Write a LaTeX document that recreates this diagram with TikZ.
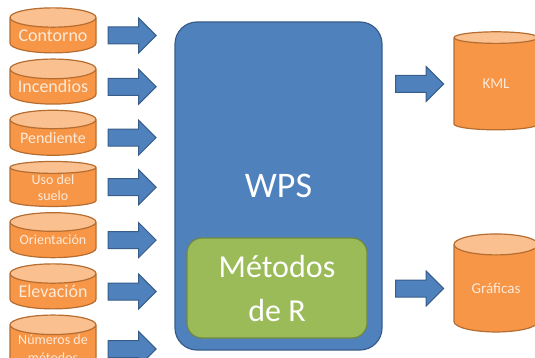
\documentclass[tikz,border=0pt]{standalone}
\usepackage{fontspec}
\setmainfont{Carlito}
\usetikzlibrary{shapes.geometric, shapes.arrows, positioning}

\definecolor{dbbody}{HTML}{F79646}
\definecolor{dbtop}{HTML}{FAC090}
\definecolor{dbline}{HTML}{B66D31}
\definecolor{dbtext}{HTML}{FDEADA}
\definecolor{wpsfill}{HTML}{4F81BD}
\definecolor{wpsline}{HTML}{385D8A}
\definecolor{rfill}{HTML}{9BBB59}
\definecolor{rline}{HTML}{71893F}

\tikzset{
  db/.style={cylinder, shape border rotate=90, aspect=0.28, draw=dbline, line width=1.2pt,
    cylinder uses custom fill, cylinder body fill=dbbody, cylinder end fill=dbtop,
    text=dbtext, inner sep=0pt, align=center, minimum width=86pt, minimum height=45pt},
  dbout/.style={db, aspect=0.43, minimum width=84pt, minimum height=98pt,
    font=\fontsize{15}{17}\selectfont},
  flecha/.style={single arrow, draw=wpsline, fill=wpsfill, line width=1pt,
    inner xsep=0pt, inner ysep=8pt, single arrow head extend=9pt,
    minimum width=34pt, minimum height=48pt},
}

\begin{document}
\begin{tikzpicture}[x=1pt, y=-1pt, node distance=5pt]
\useasboundingbox (0,0) rectangle (535,358);

% fuentes de datos
\node[db, font=\fontsize{18}{20}\selectfont]	(con) at (53,35.5)		{Contorno};
\node[db, font=\fontsize{18}{20}\selectfont]	(inc) [below=of con]	{Incendios};
\node[db, font=\fontsize{16}{18}\selectfont]	(pen) [below=of inc]	{Pendiente};
\node[db, font=\fontsize{14}{16}\selectfont]	(uso) [below=of pen]	{Uso del\\suelo};
\node[db, font=\fontsize{14}{16}\selectfont]	(ori) [below=of uso]	{Orientación};
\node[db, font=\fontsize{18}{20}\selectfont]	(ele) [below=of ori]	{Elevación};
\node[db, font=\fontsize{14}{18}\selectfont]	(num) [below=of ele]	{Números de\\métodos};

% servidor
\node[draw=wpsline, fill=wpsfill, line width=1.2pt, rounded corners=22pt,
      minimum width=207pt, minimum height=328pt, text=white,
      font=\fontsize{36}{40}\selectfont]			(wps) at (278.5,186)	{WPS};
\node[draw=rline, fill=rfill, line width=1.2pt, rounded corners=15pt,
      minimum width=180pt, minimum height=100pt, text=white, align=center,
      font=\fontsize{32}{44}\selectfont]			(met) at (277,288)		{Métodos\\de R};

% salidas
\node[dbout]									(kml) at (496,84)		{KML};
\node[dbout]									(gra) at (496,288.5)	{Gráficas};

% flechas
\foreach \n in {con, inc, pen, uso, ori, ele, num}
  \node[flecha] (f-\n) [right=11pt of \n, anchor=tail] {};
\node[flecha] (f-kml) [left=9pt of kml, anchor=tip] {};
\node[flecha] (f-gra) [left=9pt of gra, anchor=tip] {};

\end{tikzpicture}
\end{document}
